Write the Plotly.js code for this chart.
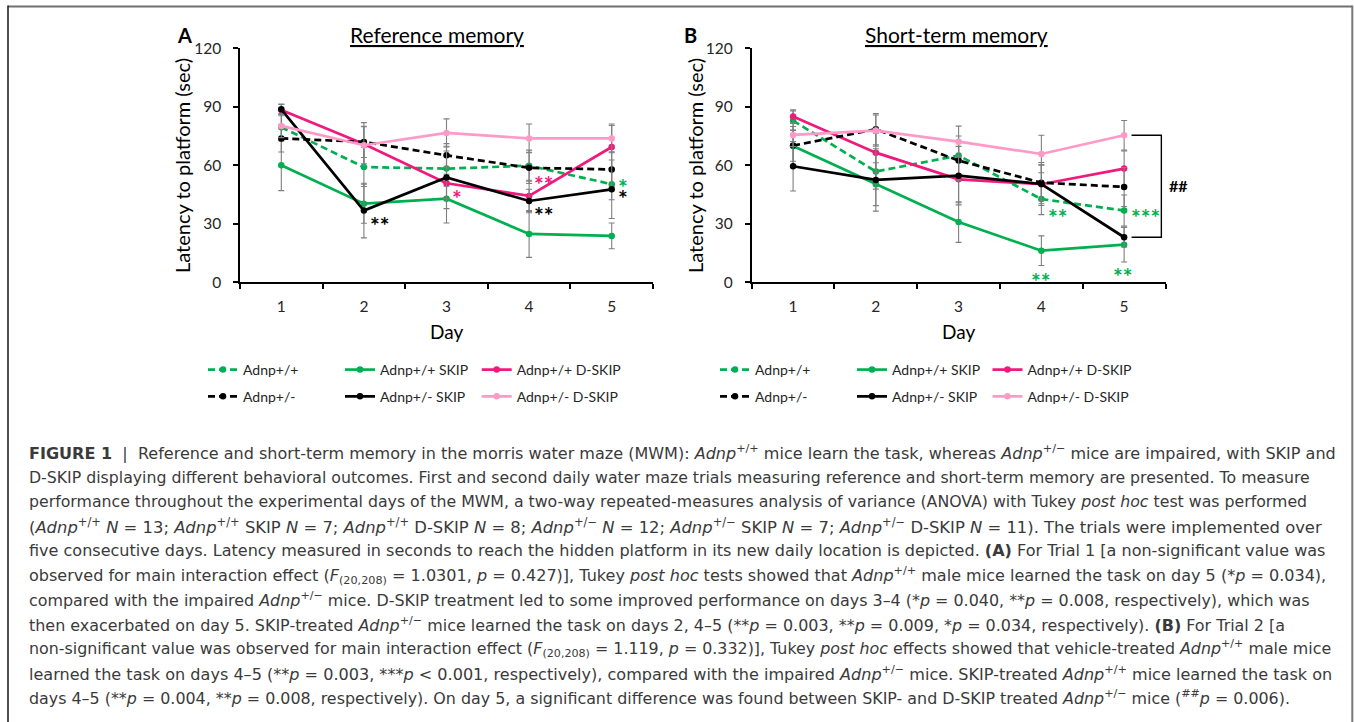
<!DOCTYPE html>
<html><head><meta charset="utf-8">
<script src="https://cdn.plot.ly/plotly-3.0.1.min.js"></script>
<style>html,body{margin:0;padding:0;background:#fff}#chart{width:1354px;height:722px}</style>
</head><body><div id="chart"></div>
<script>
// ---------- data ----------
const days = [1, 2, 3, 4, 5];
const dayLabels = ['1', '2', '3', '4', '5'];
const seriesNames = ['Adnp+/+', 'Adnp+/+ SKIP', 'Adnp+/+ D-SKIP', 'Adnp+/-', 'Adnp+/- SKIP', 'Adnp+/- D-SKIP'];
const yTicks = [0, 30, 60, 90, 120];

// Panel A: Reference memory (Trial 1), mean latency (sec) and SEM
const refWT        = [79.5, 59.1, 58.3, 59.8, 50.3];
const refWTerr     = [7, 10, 9, 8, 8];
const refWTskip    = [60.0, 40.3, 42.9, 24.8, 23.8];
const refWTskipErr = [13, 10, 12.5, 12, 6.6];
const refWTdskip   = [88.4, 70.9, 50.8, 44.3, 69.4];
const refWTdskipErr= [3, 11, 8, 8, 11];
const refHT        = [73.8, 72.0, 65.1, 58.7, 57.9];
const refHTerr     = [7, 8, 6, 8, 9];
const refHTskip    = [88.7, 36.8, 53.8, 41.7, 47.7];
const refHTskipErr = [2.5, 14, 16, 6, 15];
const refHTdskip   = [80.2, 70.3, 76.6, 73.8, 73.8];
const refHTdskipErr= [6, 9.5, 7.2, 7.4, 7.4];

// Panel B: Short-term memory (Trial 2)
const stmWT        = [82.9, 56.8, 65.0, 42.7, 36.8];
const stmWTerr     = [5, 9, 10, 8, 8];
const stmWTskip    = [69.9, 50.3, 30.9, 16.2, 19.3];
const stmWTskipErr = [10, 11, 10.4, 7.6, 8.9];
const stmWTdskip   = [85.0, 66.5, 52.8, 50.3, 58.3];
const stmWTdskipErr= [3.5, 10, 12, 10, 9];
const stmHT        = [70.1, 78.5, 62.4, 51.1, 48.9];
const stmHTerr     = [8, 8, 10, 9, 10];
const stmHTskip    = [59.5, 52.5, 54.7, 50.4, 23.1];
const stmHTskipErr = [12.7, 16, 15, 11, 5];
const stmHTdskip   = [75.6, 77.8, 72.1, 65.8, 75.4];
const stmHTdskipErr= [6, 8, 8, 9.6, 7.6];

// ---------- styling ----------
const W = 1354, H = 722;
const X = p => p / W, Y = p => 1 - p / H;
const GREEN = '#00B050', MAG = '#F0197D', PINK = '#FF9AC8', BLACK = '#000000';
const styles = [
  {color: GREEN, dash: '7px,4px'},
  {color: GREEN, dash: 'solid'},
  {color: MAG,   dash: 'solid'},
  {color: BLACK, dash: '7px,4px'},
  {color: BLACK, dash: 'solid'},
  {color: PINK,  dash: 'solid'}
];
const FONT = 'Lato, "Open Sans", sans-serif';
const CAP = '"DejaVu Sans", "Liberation Sans", sans-serif';

// legend slots: column line-start x (px) and row centre y (px) for each panel
const legColsA = [208, 345, 481.7], legColsB = [720, 857, 992.5], legRows = [370, 396.7];

function legName(k) { return k === 0 ? 'legend' : 'legend' + (k + 1); }
function mk(y, err, i, xa, ya, k) {
  return {
    type: 'scatter', mode: 'lines+markers', x: days, y: y,
    name: seriesNames[i], xaxis: xa, yaxis: ya, legend: legName(k),
    line: {color: styles[i].color, width: 2.7, dash: styles[i].dash},
    marker: {color: styles[i].color, size: 6.5, symbol: 'circle'},
    error_y: {type: 'data', array: err, visible: true, color: '#7f7f7f', thickness: 1.1, width: 3},
    hoverinfo: 'x+y+name'
  };
}
const dataA = [[refWT, refWTerr], [refWTskip, refWTskipErr], [refWTdskip, refWTdskipErr],
               [refHT, refHTerr], [refHTskip, refHTskipErr], [refHTdskip, refHTdskipErr]];
const dataB = [[stmWT, stmWTerr], [stmWTskip, stmWTskipErr], [stmWTdskip, stmWTdskipErr],
               [stmHT, stmHTerr], [stmHTskip, stmHTskipErr], [stmHTdskip, stmHTdskipErr]];
const traces = [];
dataA.forEach((d, i) => traces.push(mk(d[0], d[1], i, 'x', 'y', i)));
dataB.forEach((d, i) => traces.push(mk(d[0], d[1], i, 'x2', 'y2', i + 6)));

function yAxis(anchor) {
  return {anchor: anchor, range: [0, 120], tickmode: 'array', tickvals: yTicks, ticktext: yTicks.map(String),
    ticks: 'outside', ticklen: 5, tickwidth: 1.5, tickcolor: '#000', showline: true, linecolor: '#000', linewidth: 1.5,
    showgrid: false, zeroline: false, ticklabelstandoff: 9,
    tickfont: {family: FONT, size: 15.5, color: '#262626'}, fixedrange: true,
    domain: [Y(282.3), Y(48.3)]};
}
function xAxis(anchor, d0, d1) {
  return {anchor: anchor, range: [0.5, 5.5], tickmode: 'array', tickvals: days, ticktext: dayLabels,
    ticks: '', showline: true, linecolor: '#000', linewidth: 1.5, showgrid: false, zeroline: false,
    ticklabelstandoff: 9, tickfont: {family: FONT, size: 15.5, color: '#262626'}, fixedrange: true,
    minor: {tickmode: 'array', tickvals: [0.5, 1.5, 2.5, 3.5, 4.5, 5.5], ticks: 'outside', ticklen: 5, tickwidth: 1.5, tickcolor: '#000', showgrid: false},
    domain: [X(d0), X(d1)]};
}
function legend(xpx, ypx) {
  return {orientation: 'h', x: X(xpx - 5), y: Y(ypx), xanchor: 'left', yanchor: 'middle',
    font: {family: FONT, size: 14, color: '#262626'},
    bgcolor: 'rgba(0,0,0,0)', borderwidth: 0, itemclick: false, itemdoubleclick: false};
}

const ann = [];
function txt(text, xpx, ypx, opts) {
  ann.push(Object.assign({text: text, xref: 'paper', yref: 'paper', x: X(xpx), y: Y(ypx), showarrow: false,
    xanchor: 'center', yanchor: 'middle', font: {family: FONT, size: 19, color: '#000'}}, opts || {}));
}
// panel letters and titles
txt('<b>A</b>', 184, 35, {font: {family: FONT, size: 20, color: '#000'}});
txt('<b>B</b>', 690.5, 35, {font: {family: FONT, size: 20, color: '#000'}});
txt('Reference memory', 436.5, 35, {font: {family: FONT, size: 21, color: '#000', lineposition: 'under'}});
txt('Short-term memory', 956, 35, {font: {family: FONT, size: 21, color: '#000', lineposition: 'under'}});
// axis titles
txt('Latency to platform (sec)', 182, 166, {textangle: -90, font: {family: FONT, size: 20, color: '#000'}});
txt('Latency to platform (sec)', 695, 166, {textangle: -90, font: {family: FONT, size: 20, color: '#000'}});
txt('Day', 446.5, 331.5);
txt('Day', 958.6, 331.5);
// significance marks
function star(text, x, y, color, xr, yr, anchor) {
  ann.push({text: '<b>' + text + '</b>', xref: xr, yref: yr, x: x, y: y, showarrow: false, xanchor: anchor || 'left', yanchor: 'middle',
    yshift: -6, font: {family: FONT, size: 23, color: color}});
}
star('**', 2.05, 32.5, BLACK, 'x', 'y');
star('*', 3.04, 46.2, MAG, 'x', 'y');
star('**', 4.03, 53.3, MAG, 'x', 'y');
star('**', 4.03, 37.6, BLACK, 'x', 'y');
star('*', 5.05, 52.0, GREEN, 'x', 'y');
star('*', 5.05, 46.2, BLACK, 'x', 'y');
star('**', 4.06, 36.8, GREEN, 'x2', 'y2');
star('***', 5.06, 36.8, GREEN, 'x2', 'y2');
star('**', 4.0, 3.8, GREEN, 'x2', 'y2', 'center');
star('**', 4.99, 6.3, GREEN, 'x2', 'y2', 'center');
txt('<b>##</b>', 1178, 185.7, {font: {family: FONT, size: 16, color: '#000'}});

// caption
const capLines = [
  '<b>FIGURE 1</b>  |  Reference and short-term memory in the morris water maze (MWM): <i>Adnp</i><sup>+/+</sup> mice learn the task, whereas <i>Adnp</i><sup>+/−</sup> mice are impaired, with SKIP and',
  'D-SKIP displaying different behavioral outcomes. First and second daily water maze trials measuring reference and short-term memory are presented. To measure',
  'performance throughout the experimental days of the MWM, a two-way repeated-measures analysis of variance (ANOVA) with Tukey <i>post hoc</i> test was performed',
  '(<i>Adnp</i><sup>+/+</sup> <i>N</i> = 13; <i>Adnp</i><sup>+/+</sup> SKIP <i>N</i> = 7; <i>Adnp</i><sup>+/+</sup> D-SKIP <i>N</i> = 8; <i>Adnp</i><sup>+/−</sup> <i>N</i> = 12; <i>Adnp</i><sup>+/−</sup> SKIP <i>N</i> = 7; <i>Adnp</i><sup>+/−</sup> D-SKIP <i>N</i> = 11). The trials were implemented over',
  'five consecutive days. Latency measured in seconds to reach the hidden platform in its new daily location is depicted. <b>(A)</b> For Trial 1 [a non-significant value was',
  'observed for main interaction effect (<i>F</i><sub>(20,208)</sub> = 1.0301, <i>p</i> = 0.427)], Tukey <i>post hoc</i> tests showed that <i>Adnp</i><sup>+/+</sup> male mice learned the task on day 5 (*<i>p</i> = 0.034),',
  'compared with the impaired <i>Adnp</i><sup>+/−</sup> mice. D-SKIP treatment led to some improved performance on days 3–4 (*<i>p</i> = 0.040, **<i>p</i> = 0.008, respectively), which was',
  'then exacerbated on day 5. SKIP-treated <i>Adnp</i><sup>+/−</sup> mice learned the task on days 2, 4–5 (**<i>p</i> = 0.003, **<i>p</i> = 0.009, *<i>p</i> = 0.034, respectively). <b>(B)</b> For Trial 2 [a',
  'non-significant value was observed for main interaction effect (<i>F</i><sub>(20,208)</sub> = 1.119, <i>p</i> = 0.332)], Tukey <i>post hoc</i> effects showed that vehicle-treated <i>Adnp</i><sup>+/+</sup> male mice',
  'learned the task on days 4–5 (**<i>p</i> = 0.003, ***<i>p</i> &lt; 0.001, respectively), compared with the impaired <i>Adnp</i><sup>+/−</sup> mice. SKIP-treated <i>Adnp</i><sup>+/+</sup> mice learned the task on',
  'days 4–5 (**<i>p</i> = 0.004, **<i>p</i> = 0.008, respectively). On day 5, a significant difference was found between SKIP- and D-SKIP treated <i>Adnp</i><sup>+/−</sup> mice (<sup>##</sup><i>p</i> = 0.006).'
];
// per-line type size so that each line spans the same width as in the printed caption
const capSizes = [16.04, 15.74, 15.75, 16.4, 16.05, 16.04, 15.91, 15.95, 15.86, 16.07, 15.89];
capLines.forEach((t, i) => txt(t, 27, 452.5 + i * 24.5, {xanchor: 'left', align: 'left', font: {family: CAP, size: capSizes[i], color: '#3a3a3a'}}));

// frame and bracket (SKIP vs D-SKIP Adnp+/- on day 5)
const shapes = [
  {type: 'line', xref: 'paper', yref: 'paper', x0: X(8), x1: X(1352.3), y0: Y(6.5), y1: Y(6.5), line: {color: '#707070', width: 2}},
  {type: 'line', xref: 'paper', yref: 'paper', x0: X(8), x1: X(8), y0: Y(5.5), y1: Y(730), line: {color: '#222', width: 1.6}},
  {type: 'line', xref: 'paper', yref: 'paper', x0: X(1352.3), x1: X(1352.3), y0: Y(5.5), y1: Y(730), line: {color: '#777', width: 2}},
  {type: 'path', xref: 'x2', yref: 'y2',
   path: `M5.09,${stmHTdskip[4]} L5.45,${stmHTdskip[4]} L5.45,${stmHTskip[4]} L5.09,${stmHTskip[4]}`,
   line: {color: '#000', width: 1.4}}
];

const layout = {
  width: W, height: H, margin: {l: 0, r: 0, t: 0, b: 0}, paper_bgcolor: '#fff', plot_bgcolor: 'rgba(0,0,0,0)',
  showlegend: true,
  xaxis: xAxis('y', 240, 653), yaxis: yAxis('x'),
  xaxis2: xAxis('y2', 751.7, 1165.5), yaxis2: yAxis('x2'),
  annotations: ann, shapes: shapes
};
for (let k = 0; k < 12; k++) {
  const cols = k < 6 ? legColsA : legColsB;
  const i = k % 6;
  layout[legName(k)] = legend(cols[i % 3], legRows[Math.floor(i / 3)]);
}
Plotly.newPlot('chart', traces, layout, {displayModeBar: false});
</script></body></html>
